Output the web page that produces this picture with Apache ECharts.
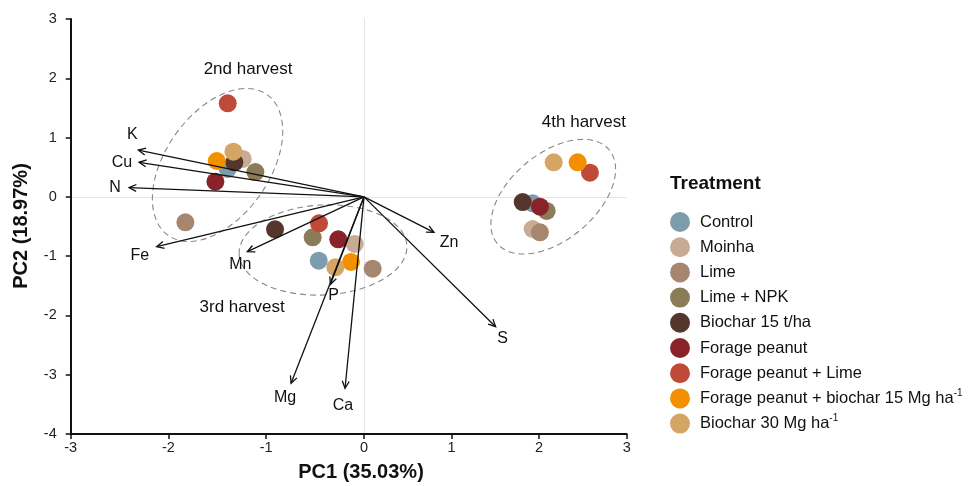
<!DOCTYPE html>
<html>
<head>
<meta charset="utf-8">
<script src="https://cdn.jsdelivr.net/npm/echarts@6/dist/echarts.min.js"></script>
<style>
  html, body { margin: 0; padding: 0; background: #fff; }
  #chart { width: 976px; height: 486px; }
</style>
</head>
<body>
<div id="chart"></div>
<script>
// Treatments (legend order) and their colours
const treatments = [
  'Control', 'Moinha', 'Lime', 'Lime + NPK', 'Biochar 15 t/ha',
  'Forage peanut', 'Forage peanut + Lime',
  'Forage peanut + biochar 15 Mg ha-1', 'Biochar 30 Mg ha-1'
];
const colors = ['#7b9dad', '#c8ab94', '#a78670', '#8b7b57', '#54362d',
                '#8a2229', '#c04a39', '#f39000', '#d4a565'];

// PCA scores [PC1, PC2] per harvest, one pair per treatment (same order as above)
const harvest2 = [[-1.394, 0.470], [-1.240, 0.639], [-1.827, -0.429], [-1.111, 0.419], [-1.326, 0.583],
                  [-1.520, 0.256], [-1.394, 1.578], [-1.506, 0.605], [-1.336, 0.762]];
const harvest3 = [[-0.463, -1.077], [-0.095, -0.795], [0.099, -1.211], [-0.525, -0.682], [-0.910, -0.547],
                  [-0.263, -0.716], [-0.460, -0.446], [-0.133, -1.098], [-0.293, -1.188]];
const harvest4 = [[1.926, -0.109], [1.926, -0.542], [2.009, -0.598], [2.086, -0.238], [1.812, -0.087],
                  [2.009, -0.166], [2.580, 0.408], [2.440, 0.583], [2.166, 0.583]];

// Variable loadings (biplot vectors)
const variables = ['K', 'Cu', 'N', 'Fe', 'Mn', 'P', 'Mg', 'Ca', 'Zn', 'S'];
const loadingsPC1 = [-2.308, -2.301, -2.403, -2.120, -1.193, -0.343, -0.746, -0.194, 0.799, 1.503];
const loadingsPC2 = [0.790, 0.583, 0.155, -0.840, -0.925, -1.475, -3.145, -3.229, -0.598, -2.190];

// Axis ticks
const pc1Ticks = [-3, -2, -1, 0, 1, 2, 3];
const pc2Ticks = [-4, -3, -2, -1, 0, 1, 2, 3];

// Pixel offsets of each vector's label from its arrow tip
const labelOffsets = [[-6, -15], [-17, 0], [-14, 0], [-17, 9], [-7, 13],
                      [3, 11], [-6, 14], [-2, 17], [15, 10], [7, 12]];

// Harvest groupings: ellipse centre (data units), radii (px), tilt (deg)
const harvestGroups = [
  { label: '2nd harvest', center: [-1.498, 0.538], rx: 86, ry: 52, tilt: 55, labelAt: [-1.186, 2.157] },
  { label: '3rd harvest', center: [-0.419, -0.896], rx: 84, ry: 45, tilt: 3, labelAt: [-1.247, -1.857] },
  { label: '4th harvest', center: [2.161, 0.003], rx: 73, ry: 43, tilt: 40, labelAt: [2.511, 1.263] }
];

const FONT = '"Liberation Sans", Arial, sans-serif';
const INK = '#111';

const chart = echarts.init(document.getElementById('chart'), null, { renderer: 'canvas' });

// The PC1 axis is drawn as two panels that meet at zero
const gridLeft = { left: 70.7, top: 19, width: 293.3, height: 415 };
const gridRight = { left: 364, top: 19, width: 262.7, height: 415 };

function gridOf(x) { return x < 0 ? 0 : 1; }

const series = [];
treatments.forEach((name, i) => {
  const pts = [harvest2[i], harvest3[i], harvest4[i]];
  [0, 1].forEach(g => {
    series.push({
      type: 'scatter',
      name: name,
      xAxisIndex: g,
      yAxisIndex: g,
      data: pts.filter(p => gridOf(p[0]) === g),
      symbol: 'circle',
      symbolSize: 18,
      itemStyle: { color: colors[i], opacity: 1 },
      emphasis: { disabled: true },
      z: 2
    });
  });
});

function renderArrow(params, api) {
  const idx = api.value(2);
  const o = api.coord([0, 0]);
  const p = api.coord([api.value(0), api.value(1)]);
  const ang = Math.atan2(p[1] - o[1], p[0] - o[0]);
  const h = 8, spread = 0.45;
  const a1 = [p[0] - h * Math.cos(ang - spread), p[1] - h * Math.sin(ang - spread)];
  const a2 = [p[0] - h * Math.cos(ang + spread), p[1] - h * Math.sin(ang + spread)];
  const off = labelOffsets[idx];
  return {
    type: 'group',
    children: [
      { type: 'line', shape: { x1: o[0], y1: o[1], x2: p[0], y2: p[1] },
        style: { stroke: INK, lineWidth: 1.3 } },
      { type: 'polyline', shape: { points: [a1, p, a2] },
        style: { stroke: INK, lineWidth: 1.3, fill: null } },
      { type: 'text', x: p[0] + off[0], y: p[1] + off[1],
        style: { text: variables[idx], fill: INK, fontSize: 16, fontFamily: FONT,
                 align: 'center', verticalAlign: 'middle' } }
    ]
  };
}

[0, 1].forEach(g => {
  const data = [];
  variables.forEach((v, i) => {
    if (gridOf(loadingsPC1[i]) === g) data.push([loadingsPC1[i], loadingsPC2[i], i]);
  });
  series.push({
    type: 'custom',
    xAxisIndex: g,
    yAxisIndex: g,
    data: data,
    encode: { x: 0, y: 1 },
    renderItem: renderArrow,
    clip: false,
    silent: true,
    z: 3,
    markLine: {
      silent: true,
      symbol: 'none',
      label: { show: false },
      lineStyle: { color: '#e6e6e6', width: 1, type: 'solid' },
      data: [{ yAxis: 0 }],
      z: 0
    }
  });
});

const axisLineStyle = { color: INK, width: 2 };
const tickStyle = { color: INK, width: 1.5 };
const tickLabel = { fontSize: 14.5, color: '#222', fontFamily: FONT };

const option = {
  animation: false,
  backgroundColor: '#fff',
  grid: [gridLeft, gridRight],
  xAxis: [
    { gridIndex: 0, type: 'value', min: pc1Ticks[0], max: 0, interval: 1,
      axisLine: { onZero: false, lineStyle: axisLineStyle },
      axisTick: { length: 5, lineStyle: tickStyle },
      axisLabel: Object.assign({ margin: 6 }, tickLabel),
      splitLine: { show: false } },
    { gridIndex: 1, type: 'value', min: 0, max: pc1Ticks[pc1Ticks.length - 1], interval: 1,
      axisLine: { onZero: false, lineStyle: axisLineStyle },
      axisTick: { length: 5, lineStyle: tickStyle },
      axisLabel: Object.assign({ margin: 6, showMinLabel: false }, tickLabel),
      splitLine: { show: false } }
  ],
  yAxis: [
    { gridIndex: 0, type: 'value', min: pc2Ticks[0], max: pc2Ticks[pc2Ticks.length - 1], interval: 1,
      axisLine: { onZero: false, lineStyle: axisLineStyle },
      axisTick: { length: 5, lineStyle: tickStyle },
      axisLabel: Object.assign({ margin: 14 }, tickLabel),
      splitLine: { show: false } },
    { gridIndex: 1, type: 'value', min: pc2Ticks[0], max: pc2Ticks[pc2Ticks.length - 1], interval: 1,
      axisLine: { show: true, onZero: false, lineStyle: { color: '#e6e6e6', width: 1 } },
      axisTick: { show: false },
      axisLabel: { show: false },
      splitLine: { show: false } }
  ],
  legend: {
    data: treatments,
    orient: 'vertical',
    left: 665,
    top: 207,
    itemWidth: 20,
    itemHeight: 20,
    itemGap: 5.2,
    icon: 'circle',
    selectedMode: false,
    formatter: name => name.endsWith('ha-1')
      ? '{n|' + name.slice(0, -2) + '}{sup|-1}'
      : '{n|' + name + '}',
    textStyle: {
      fontSize: 16.5, color: INK, fontFamily: FONT, padding: [0, 0, 0, 5],
      rich: {
        n: { fontSize: 16.5, color: INK, fontFamily: FONT, lineHeight: 20 },
        sup: { fontSize: 10, color: INK, fontFamily: FONT, verticalAlign: 'top', lineHeight: 20, padding: [0, 0, 8, 0] }
      }
    }
  },
  series: series
};

chart.setOption(option);

// Harvest ellipses, harvest labels, axis titles and legend heading
const graphics = [];
harvestGroups.forEach(hg => {
  const c = chart.convertToPixel({ gridIndex: gridOf(hg.center[0]) }, hg.center);
  graphics.push({
    type: 'ellipse', x: c[0], y: c[1], rotation: hg.tilt * Math.PI / 180,
    shape: { cx: 0, cy: 0, rx: hg.rx, ry: hg.ry },
    style: { fill: null, stroke: '#888', lineWidth: 1.1, lineDash: [6, 4] },
    silent: true, z: 1
  });
  const t = chart.convertToPixel({ gridIndex: gridOf(hg.labelAt[0]) }, hg.labelAt);
  graphics.push({
    type: 'text', x: t[0], y: t[1], silent: true, z: 5,
    style: { text: hg.label, fontSize: 17, fontFamily: FONT, fill: INK,
             align: 'center', verticalAlign: 'middle' }
  });
});
graphics.push({
  type: 'text', x: 361, y: 472, silent: true,
  style: { text: 'PC1 (35.03%)', fontSize: 20, fontWeight: 'bold', fontFamily: FONT, fill: INK,
           align: 'center', verticalAlign: 'middle' }
});
graphics.push({
  type: 'text', x: 21, y: 226, rotation: Math.PI / 2, silent: true,
  style: { text: 'PC2 (18.97%)', fontSize: 20, fontWeight: 'bold', fontFamily: FONT, fill: INK,
           align: 'center', verticalAlign: 'middle' }
});
graphics.push({
  type: 'text', x: 670, y: 184, silent: true,
  style: { text: 'Treatment', fontSize: 19, fontWeight: 'bold', fontFamily: FONT, fill: INK,
           align: 'left', verticalAlign: 'middle' }
});
chart.setOption({ graphic: graphics });
</script>
</body>
</html>
